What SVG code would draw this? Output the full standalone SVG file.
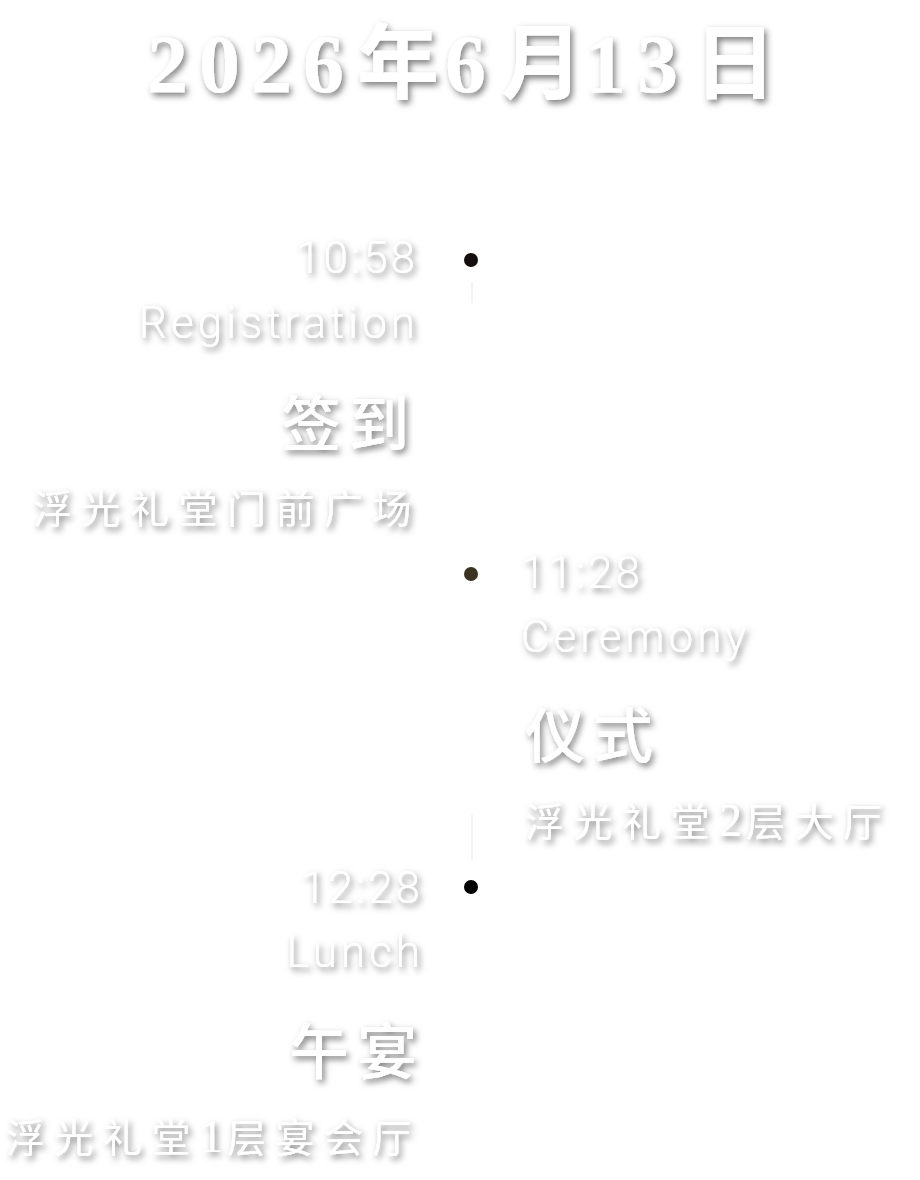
<svg xmlns="http://www.w3.org/2000/svg" width="920" height="1180" viewBox="0 0 920 1180">
  <defs>
    <filter id="sh" x="-20%" y="-40%" width="140%" height="180%">
      <feDropShadow dx="2.5" dy="3.5" stdDeviation="3" flood-color="#000" flood-opacity="0.5"/>
    </filter>
  </defs>
  <style>
    text { fill: #ffffff; filter: url(#sh); }
    .title { font-family: "Liberation Serif", "Noto Sans CJK SC", serif; font-weight: bold; font-size: 82px; }
    .num { letter-spacing: 11px; }
    .time { font-family: "Roboto", "Liberation Sans", sans-serif; font-weight: 300; font-size: 44px; letter-spacing: 3px; }
    .en { font-family: "Roboto", "Liberation Sans", sans-serif; font-weight: 300; font-size: 44px; letter-spacing: 4px; }
    .zh { font-family: "Noto Sans CJK SC", sans-serif; font-weight: 500; font-size: 60px; letter-spacing: 8px; }
    .place { font-family: "Liberation Serif", "Noto Sans CJK SC", serif; font-size: 39px; letter-spacing: 9.5px; }
    .pd { font-size: 46px; letter-spacing: 4px; }
    .dot { fill: #140f0c; }
    .line { stroke: #f3f3f3; stroke-width: 2; }
  </style>
  <rect width="920" height="1180" fill="#ffffff"/>

  <g id="title">
    <text class="title" y="92"><tspan class="num" x="147">2026</tspan><tspan x="357">年</tspan><tspan class="num" x="445">6</tspan><tspan x="501">月</tspan><tspan class="num" x="585">13</tspan><tspan x="694">日</tspan></text>
  </g>

  <g id="connectors">
    <line class="line" x1="472" y1="282" x2="472" y2="303"/>
    <line class="line" x1="472" y1="815" x2="472" y2="860"/>
  </g>

  <g id="node-registration">
    <circle class="dot" cx="471" cy="260" r="7"/>
    <text class="time" x="418" y="273" text-anchor="end">10:58</text>
    <text class="en" x="419" y="338" text-anchor="end">Registration</text>
    <text class="zh" x="417" y="446" text-anchor="end">签到</text>
    <text class="place" x="421" y="523" text-anchor="end">浮光礼堂门前广场</text>
  </g>

  <g id="node-ceremony">
    <circle cx="471" cy="574" r="7" fill="#3a3320"/>
    <text class="time" x="521" y="588">11:28</text>
    <text class="en" x="521" y="652">Ceremony</text>
    <text class="zh" x="525" y="758">仪式</text>
    <text class="place" x="525" y="836">浮光礼堂<tspan class="pd">2</tspan>层大厅</text>
  </g>

  <g id="node-lunch">
    <circle cx="471" cy="887" r="7" fill="#000"/>
    <text class="time" x="423" y="903" text-anchor="end">12:28</text>
    <text class="en" x="424" y="967" text-anchor="end">Lunch</text>
    <text class="zh" x="425" y="1074" text-anchor="end">午宴</text>
    <text class="place" x="421" y="1152" text-anchor="end">浮光礼堂<tspan class="pd">1</tspan>层宴会厅</text>
  </g>
</svg>
